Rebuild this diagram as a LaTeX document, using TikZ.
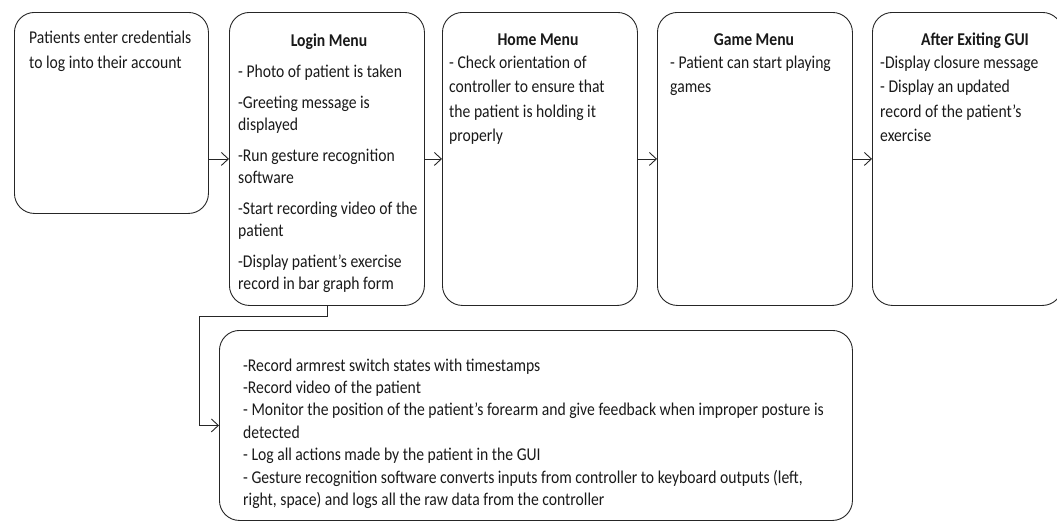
\documentclass[tikz,border=0pt]{standalone}
\usepackage{fontspec}
\setmainfont{Carlito}[FakeStretch=0.87]
\usetikzlibrary{arrows.meta}
\newcommand\txtblock[2]{\parbox[t]{700pt}{\raggedright\fontsize{18}{#1}\selectfont #2}}
\begin{document}
\begin{tikzpicture}[x=1pt,y=-1pt,
  box/.style={draw=black!85, line width=0.9pt, rounded corners=20pt, inner sep=0pt, anchor=north west},
  arr/.style={draw=black!85, line width=0.9pt, -{Straight Barb[length=7pt,width=13pt,line width=0.9pt]}},
  txt/.style={inner sep=0pt, anchor=base west, text=black!90},
  ttl/.style={inner sep=0pt, anchor=base, text=black!90, font=\fontsize{18}{22}\selectfont\bfseries}]
\useasboundingbox (0,0) rectangle (1057,522);
\clip (0,0) rectangle (1057,522);
% boxes
\node[box, minimum width=194pt, minimum height=201pt] (b1) at (14,12) {};
\node[box, minimum width=195pt, minimum height=293pt] (b2) at (229,12) {};
\node[box, minimum width=195pt, minimum height=293pt] (b3) at (442,12) {};
\node[box, minimum width=195pt, minimum height=293pt] (b4) at (657,12) {};
\node[box, minimum width=190pt, minimum height=293pt] (b5) at (872,12) {};
\node[box, minimum width=633pt, minimum height=190pt] (b6) at (219,330) {};
% texts
\node[txt] (t1) at (29,43) {\txtblock{25}{Patients enter credentials\\ to log into their account}};
\node[ttl] (h2) at (329,46) {Login Menu};
\node[txt] (t2) at (238,77) {\txtblock{21.5}{- Photo of patient is taken\\[10pt]
-Greeting message is\\ displayed\\[10pt]
-Run gesture recognition\\ software\\[10pt]
-Start recording video of the\\ patient\\[10pt]
-Display patient’s exercise\\ record in bar graph form}};
\node[ttl] (h3) at (538,45) {Home Menu};
\node[txt] (t3) at (449,68.3) {\txtblock{24.5}{- Check orientation of\\ controller to ensure that\\ the patient is holding it\\ properly}};
\node[ttl] (h4) at (754,45) {Game Menu};
\node[txt] (t4) at (670,68.3) {\txtblock{24.5}{- Patient can start playing\\ games}};
\node[ttl] (h5) at (975,45) {After Exiting GUI};
\node[txt] (t5) at (880,68.3) {\txtblock{24.5}{-Display closure message\\ - Display an updated\\ record of the patient’s\\ exercise}};
\node[txt] (t6) at (243,371) {\txtblock{22.4}{-Record armrest switch states with timestamps\\
-Record video of the patient\\
- Monitor the position of the patient’s forearm and give feedback when improper posture is\\
detected\\
- Log all actions made by the patient in the GUI\\
- Gesture recognition software converts inputs from controller to keyboard outputs (left,\\
right, space) and logs all the raw data from the controller}};
% connectors
\draw[arr] (b1.east |- b2.west) -- (b2.west);
\draw[arr] (b2.east) -- (b3.west);
\draw[arr] (b3.east) -- (b4.west);
\draw[arr] (b4.east) -- (b5.west);
\coordinate (lb) at (199,316);
\draw[arr] (b2.south) |- (lb) |- (b6.west);
\end{tikzpicture}
\end{document}
